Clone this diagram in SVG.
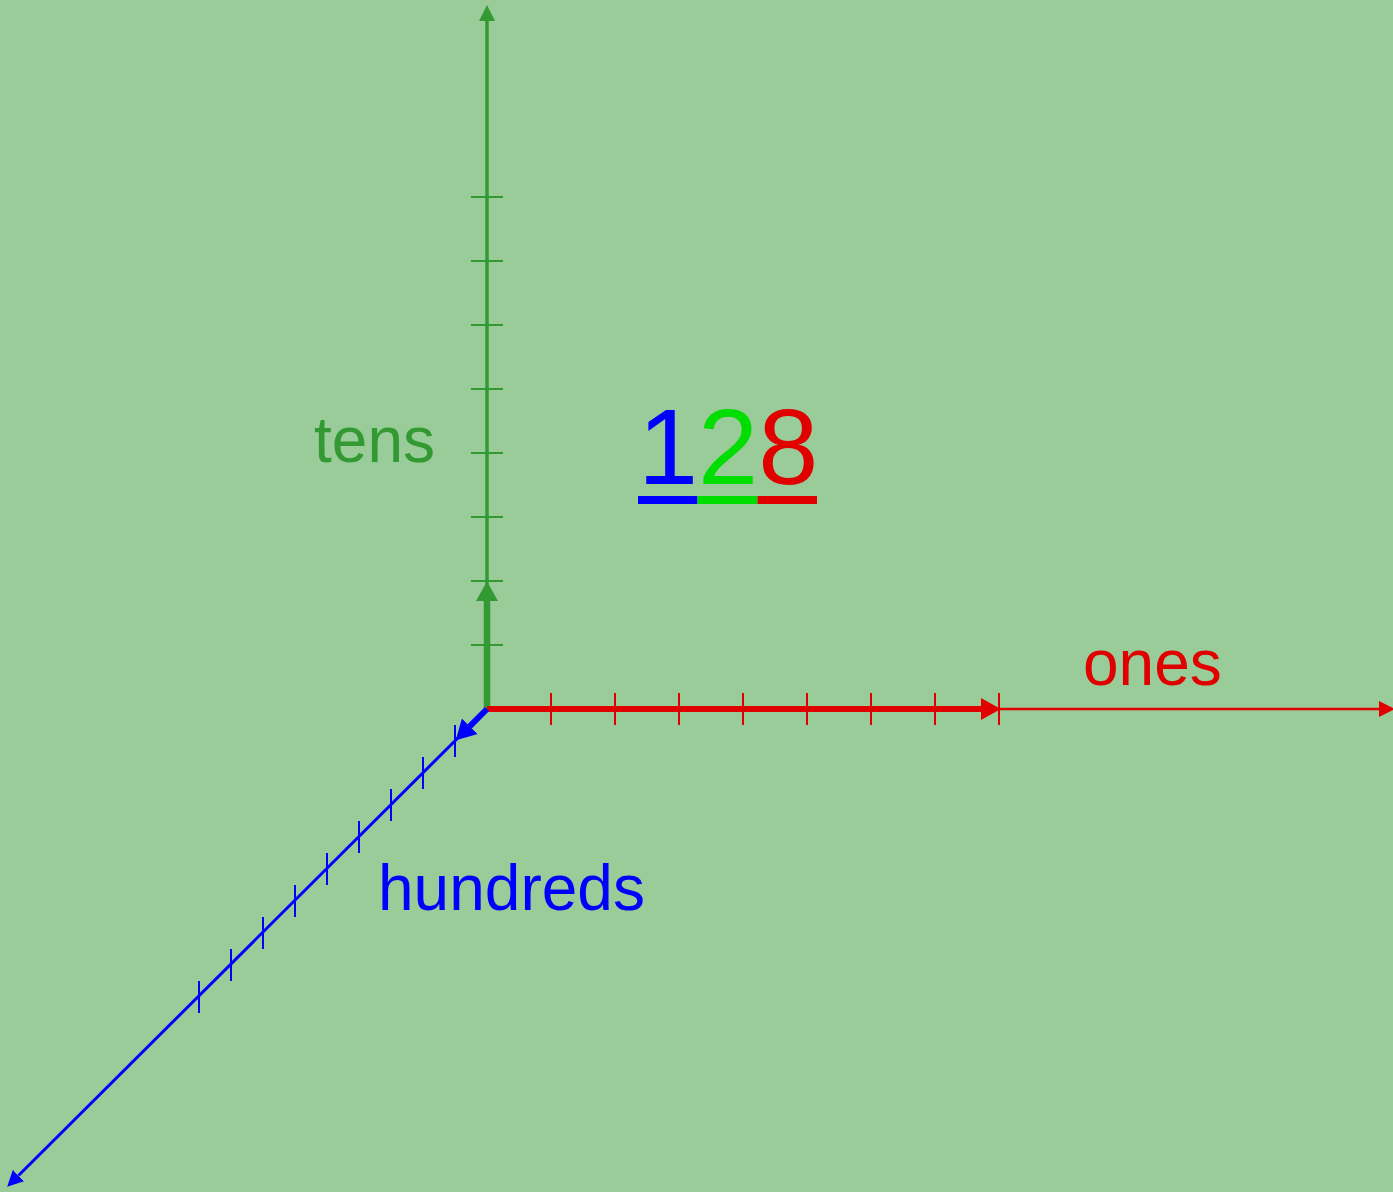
<svg xmlns="http://www.w3.org/2000/svg" width="1393" height="1192" viewBox="0 0 1393 1192">
<style>
.txt{font-family:"Liberation Sans",Arial,sans-serif;font-size:64px}
.tk{stroke-width:2;fill:none}
</style>
<defs>
<marker id="hg" markerUnits="userSpaceOnUse" markerWidth="20" markerHeight="22" refX="0" refY="10" orient="auto" viewBox="0 0 18 20"><path d="M0,0 L18,10 L0,20 z" fill="#339933"/></marker>
<marker id="hr" markerUnits="userSpaceOnUse" markerWidth="20" markerHeight="22" refX="0" refY="10" orient="auto" viewBox="0 0 18 20"><path d="M0,0 L18,10 L0,20 z" fill="#e00000"/></marker>
<marker id="hb" markerUnits="userSpaceOnUse" markerWidth="20" markerHeight="22" refX="0" refY="10" orient="auto" viewBox="0 0 18 20"><path d="M0,0 L18,10 L0,20 z" fill="#0000ff"/></marker>
<marker id="sg" markerUnits="userSpaceOnUse" markerWidth="16" markerHeight="16" refX="0" refY="8" orient="auto" viewBox="0 0 16 16"><path d="M0,0 L16,8 L0,16 z" fill="#339933"/></marker>
<marker id="sr" markerUnits="userSpaceOnUse" markerWidth="16" markerHeight="16" refX="0" refY="8" orient="auto" viewBox="0 0 16 16"><path d="M0,0 L16,8 L0,16 z" fill="#e00000"/></marker>
<marker id="sb" markerUnits="userSpaceOnUse" markerWidth="16" markerHeight="16" refX="0" refY="8" orient="auto" viewBox="0 0 16 16"><path d="M0,0 L16,8 L0,16 z" fill="#0000ff"/></marker>
</defs>
<rect x="0" y="0" width="1393" height="1192" fill="#99cc99"/>
<g id="connectors">
<line id="axis-tens" x1="487" y1="709" x2="487" y2="21" stroke="#339933" stroke-width="3.5" marker-end="url(#sg)"/>
<line id="axis-ones" x1="487" y1="709" x2="1379" y2="709" stroke="#e00000" stroke-width="2.5" marker-end="url(#sr)"/>
<line id="axis-hundreds" x1="487" y1="709" x2="18.5" y2="1175.5" stroke="#0000ff" stroke-width="3" marker-end="url(#sb)"/>
<g id="ticks-tens" class="tk" stroke="#339933">
<path d="M471,645H503M471,581H503M471,517H503M471,453H503M471,389H503M471,325H503M471,261H503M471,197H503"/>
</g>
<g id="ticks-ones" class="tk" stroke="#e00000">
<path d="M551,693V725M615,693V725M679,693V725M743,693V725M807,693V725M871,693V725M935,693V725M999,693V725"/>
</g>
<g id="ticks-hundreds" class="tk" stroke="#0000ff">
<path d="M455,725V757M423,757V789M391,789V821M359,821V853M327,853V885M295,885V917M263,917V949M231,949V981M199,981V1013"/>
</g>
<line id="vec-tens" x1="487" y1="709" x2="487" y2="601" stroke="#339933" stroke-width="6.5" marker-end="url(#hg)"/>
<line id="vec-ones" x1="487" y1="709" x2="981" y2="709" stroke="#e00000" stroke-width="6" marker-end="url(#hr)"/>
<line id="vec-hundreds" x1="487" y1="709" x2="469.7" y2="726.3" stroke="#0000ff" stroke-width="6" marker-end="url(#hb)"/>
</g>
<g id="label-tens"><text class="txt" x="314" y="462" fill="#339933">tens</text></g>
<g id="label-ones"><text class="txt" x="1083" y="685" fill="#e00000">ones</text></g>
<g id="label-hundreds"><text class="txt" x="378" y="910" fill="#0000ff">hundreds</text></g>
<g id="number">
<text class="txt" x="638" y="484" style="font-size:108px"><tspan fill="#0000ff">1</tspan><tspan fill="#00dd00">2</tspan><tspan fill="#e00000">8</tspan></text>
<rect x="638" y="496" width="59.5" height="8" fill="#0000ff"/>
<rect x="697.5" y="496" width="60" height="8" fill="#00dd00"/>
<rect x="757.5" y="496" width="59.5" height="8" fill="#e00000"/>
</g>
</svg>
